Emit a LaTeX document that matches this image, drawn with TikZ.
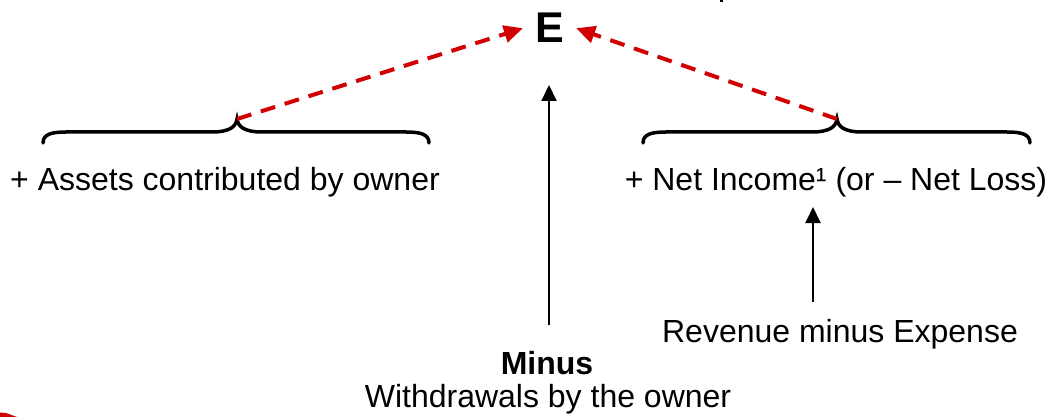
\documentclass[tikz,border=0pt]{standalone}
\usepackage{fontspec}
\setmainfont{Liberation Sans}
\usetikzlibrary{arrows.meta,calc}
\definecolor{dashred}{HTML}{D00000}

\begin{document}
\begin{tikzpicture}[x=1pt,y=-1pt,
  lbl/.style={font=\fontsize{32}{38}\selectfont, inner sep=0pt, anchor=base},
  brace/.style={line width=3.5pt, line cap=round},
  redarrow/.style={dashred, line width=4pt, dash pattern=on 15pt off 10pt,
    -{Triangle[length=19pt,width=17pt]}},
  blackarrow/.style={line width=2pt, -{Triangle[length=16pt,width=15pt]}}]

\useasboundingbox (0,0) rectangle (1057,417);

% equity symbol
\node[font=\fontsize{43}{50}\selectfont\bfseries, inner xsep=12pt, inner ysep=0pt,
  anchor=base] (E) at (549.5,43) {E};

% labels
\node[lbl] (assets) at (225,190) {+ Assets contributed by owner};
\node[lbl] (netinc) at (836,190) {+ Net Income¹ (or – Net Loss)};
\node[lbl] (rev) at (840,342) {Revenue minus Expense};
\node[lbl, font=\fontsize{32}{38}\selectfont\bfseries] (minus) at (547,374) {Minus};
\node[lbl] (withdraw) at (548,407) {Withdrawals by the owner};

% brace tips
\coordinate (bl) at (237,119);
\coordinate (br) at (837,119);

% left brace
\draw[brace] (43,143) .. controls (43,134) and (52,132) .. (66,132)
  -- (212,132) .. controls (229,132) and (236,127) .. (bl)
  .. controls (238,127) and (245,132) .. (262,132)
  -- (406,132) .. controls (420,132) and (429,134) .. (429,143);

% right brace
\draw[brace] (643,143) .. controls (643,134) and (652,132) .. (666,132)
  -- (812,132) .. controls (829,132) and (836,127) .. (br)
  .. controls (838,127) and (845,132) .. (862,132)
  -- (1007,132) .. controls (1021,132) and (1030,134) .. (1030,143);

% dashed links into E
\draw[redarrow] (bl) -- (E.west);
\draw[redarrow] (br) -- (E.east);

% withdrawals arrow
\coordinate (wBot) at (549,325);
\coordinate (wTop) at (549,85);
\draw[blackarrow] (wBot) -- (wTop);

% revenue/expense arrow
\coordinate (rBot) at (813,302);
\coordinate (rTop) at (813,207);
\draw[blackarrow] (rBot) -- (rTop);

% fragments at the edges
\fill (719.5,0) rectangle (722.5,2.5);
\fill[dashred] (0,412.5) -- (6,413) -- (17,417) -- (0,417) -- cycle;

\end{tikzpicture}
\end{document}
